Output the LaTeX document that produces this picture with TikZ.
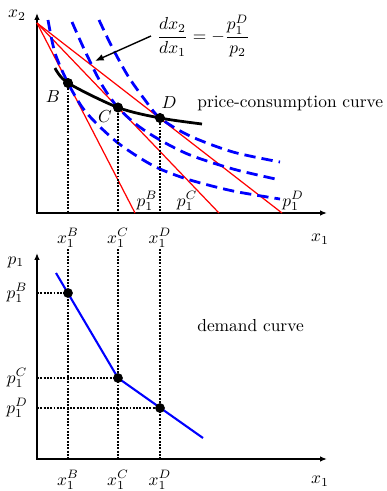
\documentclass[tikz,border=0pt]{standalone}
\usepackage{amsmath}
\usetikzlibrary{arrows.meta}

\tikzset{
    ax/.style={{Latex[length=4pt,width=3.2pt]}-{Latex[length=4pt,width=3.2pt]}, line width=0.9pt},
    budget/.style={draw=red, line width=0.7pt},
    indiff/.style={draw=blue, line width=1.6pt, dash pattern=on 6.5pt off 3.5pt},
    pcc/.style={draw=black, line width=1.6pt},
    dem/.style={draw=blue, line width=1.2pt},
    guide/.style={line width=1.1pt, dash pattern=on 1.1pt off 0.8pt},
    eqpt/.style={circle, fill=black, inner sep=0pt, minimum size=5.6pt},
    txt/.style={inner sep=0pt},
    pointer/.style={-{Latex[length=5pt,width=4pt]}, line width=0.8pt},
  }

\begin{document}
\begin{tikzpicture}[x=0.5747pt, y=0.5747pt]
    \useasboundingbox (-37,-278) rectangle (350,213);
    % goods space
    \begin{scope}
        \coordinate (O) at (0,0);
        \coordinate (ytop) at (0,200);
        \coordinate (xend) at (290,0);
        \draw[ax] (ytop) |- (xend);
        \node[txt] (x2) at (-20,198) {$x_2$};
        \node[txt] (x1) at (283,-26) {$x_1$};

        \coordinate (A) at (0,190);
        \coordinate (R1) at (98,0);
        \coordinate (R2) at (182,0);
        \coordinate (R3) at (245,0);
        \draw[budget] (A) -- (R1);
        \draw[budget] (A) -- (R2);
        \draw[budget] (A) -- (R3);

        \draw[indiff] plot[smooth] coordinates {(11,193) (18,160) (31,130) (45,106) (60,89) (81,70)
            (103,55) (123,44) (153,33) (196,22) (243,14)};
        \draw[indiff] plot[smooth] coordinates {(35,191) (48,162) (65,128) (81,105.5) (100,88) (123,73)
            (153,58) (196,44) (243,33)};
        \draw[indiff] plot[smooth] coordinates {(62,193) (75,166) (91,137) (108,113) (123,95) (153,77)
            (196,61) (243,51)};

        \draw[pcc] plot[smooth] coordinates {(18,145) (31,130) (81,105.5) (123,95) (165,89)};

        \node[eqpt] (B) at (31,130) {};
        \node[eqpt] (C) at (81,105.5) {};
        \node[eqpt] (D) at (123,95) {};
        \draw[guide] (B) -- (B |- O);
        \draw[guide] (C) -- (C |- O);
        \draw[guide] (D) -- (D |- O);
        \node[eqpt] at (B) {};
        \node[eqpt] at (C) {};
        \node[eqpt] at (D) {};

        \node[txt] (Blbl) at (16,116) {$B$};
        \node[txt] (Clbl) at (68,96) {$C$};
        \node[txt] (Dlbl) at (132,110) {$D$};
        \node[txt, anchor=west] (pcclbl) at (160,110) {price-consumption curve};

        \node[txt] (p1B) at (110,12) {$p_1^B$};
        \node[txt] (p1C) at (150,12) {$p_1^C$};
        \node[txt] (p1D) at (256,12) {$p_1^D$};

        \node[txt] (x1B) at (31,-25) {$x_1^B$};
        \node[txt] (x1C) at (81,-25) {$x_1^C$};
        \node[txt] (x1D) at (123,-25) {$x_1^D$};

        \node[anchor=west] (slope) at (114,177) {$\dfrac{dx_2}{dx_1}=-\dfrac{p_1^D}{p_2}$};
        \coordinate (tgt) at (58,152);
        \draw[pointer] (slope.west) -- (tgt);
    \end{scope}
    % price space
    \begin{scope}
        \coordinate (O2) at (0,-246);
        \coordinate (ytop2) at (0,-40);
        \coordinate (xend2) at (290,-246);
        \coordinate (gtop) at (0,-36);
        \draw[ax] (ytop2) |- (xend2);
        \node[txt] (p1) at (-21,-49) {$p_1$};
        \node[txt] (x1b) at (283,-268) {$x_1$};

        \coordinate (B2) at (31,-80);
        \coordinate (C2) at (81,-165);
        \coordinate (D2) at (123,-195);
        \coordinate (dS) at (19,-60);
        \coordinate (dE) at (166,-225);

        \draw[guide] (B2 |- gtop) -- (B2 |- O2);
        \draw[guide] (C2 |- gtop) -- (C2 |- O2);
        \draw[guide] (D2 |- gtop) -- (D2 |- O2);
        \draw[guide] (B2 -| O2) -- (B2);
        \draw[guide] (C2 -| O2) -- (C2);
        \draw[guide] (D2 -| O2) -- (D2);

        \draw[dem] (dS) -- (C2) -- (dE);
        \node[eqpt] (Bd) at (B2) {};
        \node[eqpt] (Cd) at (C2) {};
        \node[eqpt] (Dd) at (D2) {};

        \node[txt] (p1Bl) at (-20,-80) {$p_1^B$};
        \node[txt] (p1Cl) at (-20,-165) {$p_1^C$};
        \node[txt] (p1Dl) at (-20,-195) {$p_1^D$};
        \node[txt, anchor=west] (demlbl) at (160,-113) {demand curve};

        \node[txt] (x1Bb) at (31,-267) {$x_1^B$};
        \node[txt] (x1Cb) at (81,-267) {$x_1^C$};
        \node[txt] (x1Db) at (123,-267) {$x_1^D$};
    \end{scope}
\end{tikzpicture}
\end{document}
